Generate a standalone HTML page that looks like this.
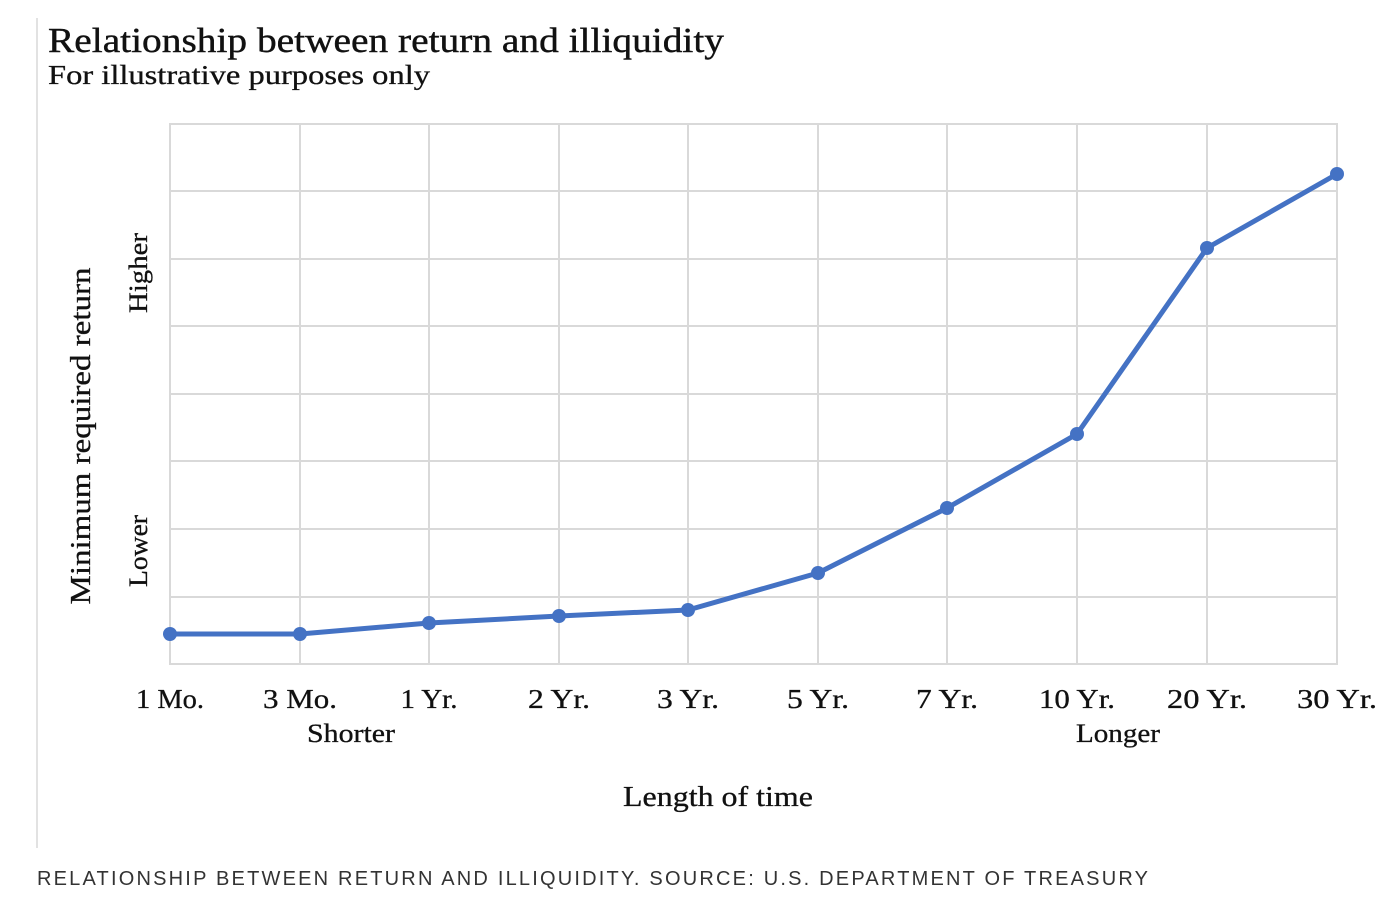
<!DOCTYPE html>
<html><head><meta charset="utf-8"><style>
html,body{margin:0;padding:0;background:#fff;}
svg{display:block}
</style></head><body>
<svg width="1394" height="918" viewBox="0 0 1394 918" xmlns="http://www.w3.org/2000/svg">
<rect width="1394" height="918" fill="#fff"/>
<line x1="37" y1="18" x2="37" y2="848" stroke="#d9d9d9" stroke-width="1.5"/>
<g font-family="Liberation Serif, serif" fill="#111">
<text x="48" y="52" font-size="35" textLength="676" lengthAdjust="spacingAndGlyphs" stroke="#111" stroke-width="0.4">Relationship between return and illiquidity</text>
<text x="48" y="84" font-size="27" textLength="382" lengthAdjust="spacingAndGlyphs" stroke="#111" stroke-width="0.3">For illustrative purposes only</text>
</g>
<g stroke="#d9d9d9" stroke-width="2" fill="none">
<rect x="170" y="124" width="1167" height="540"/>
<line x1="170" y1="191" x2="1337" y2="191"/>
<line x1="170" y1="259" x2="1337" y2="259"/>
<line x1="170" y1="326" x2="1337" y2="326"/>
<line x1="170" y1="394" x2="1337" y2="394"/>
<line x1="170" y1="461" x2="1337" y2="461"/>
<line x1="170" y1="529" x2="1337" y2="529"/>
<line x1="170" y1="597" x2="1337" y2="597"/>
<line x1="300" y1="124" x2="300" y2="664"/>
<line x1="429" y1="124" x2="429" y2="664"/>
<line x1="559" y1="124" x2="559" y2="664"/>
<line x1="688" y1="124" x2="688" y2="664"/>
<line x1="818" y1="124" x2="818" y2="664"/>
<line x1="947" y1="124" x2="947" y2="664"/>
<line x1="1077" y1="124" x2="1077" y2="664"/>
<line x1="1207" y1="124" x2="1207" y2="664"/>
</g>
<polyline points="170,634 300,634 429,623 559,616 688,610 818,573 947,508 1077,434 1207,248 1337,174" fill="none" stroke="#4472c4" stroke-width="5" stroke-linejoin="round"/>
<g fill="#4472c4">
<circle cx="170" cy="634" r="7"/><circle cx="300" cy="634" r="7"/><circle cx="429" cy="623" r="7"/><circle cx="559" cy="616" r="7"/><circle cx="688" cy="610" r="7"/><circle cx="818" cy="573" r="7"/><circle cx="947" cy="508" r="7"/><circle cx="1077" cy="434" r="7"/><circle cx="1207" cy="248" r="7"/><circle cx="1337" cy="174" r="7"/>
</g>
<g font-family="Liberation Serif, serif" fill="#111" font-size="27" text-anchor="middle" stroke="#111" stroke-width="0.3">
<text x="170" y="708" textLength="68" lengthAdjust="spacingAndGlyphs">1 Mo.</text>
<text x="300" y="708" textLength="74" lengthAdjust="spacingAndGlyphs">3 Mo.</text>
<text x="429" y="708" textLength="57" lengthAdjust="spacingAndGlyphs">1 Yr.</text>
<text x="559" y="708" textLength="62" lengthAdjust="spacingAndGlyphs">2 Yr.</text>
<text x="688" y="708" textLength="62" lengthAdjust="spacingAndGlyphs">3 Yr.</text>
<text x="818" y="708" textLength="62" lengthAdjust="spacingAndGlyphs">5 Yr.</text>
<text x="947" y="708" textLength="62" lengthAdjust="spacingAndGlyphs">7 Yr.</text>
<text x="1077" y="708" textLength="76" lengthAdjust="spacingAndGlyphs">10 Yr.</text>
<text x="1207" y="708" textLength="80" lengthAdjust="spacingAndGlyphs">20 Yr.</text>
<text x="1337" y="708" textLength="80" lengthAdjust="spacingAndGlyphs">30 Yr.</text>
<text x="351" y="742" font-size="26" textLength="88" lengthAdjust="spacingAndGlyphs">Shorter</text>
<text x="1118" y="742" font-size="26" textLength="84" lengthAdjust="spacingAndGlyphs">Longer</text>
<text x="718" y="806" font-size="28" textLength="190" lengthAdjust="spacingAndGlyphs">Length of time</text>
<text transform="translate(90,436) rotate(-90)" font-size="28" textLength="337" lengthAdjust="spacingAndGlyphs">Minimum required return</text>
<text transform="translate(147,273) rotate(-90)" font-size="26" textLength="80" lengthAdjust="spacingAndGlyphs">Higher</text>
<text transform="translate(147,551) rotate(-90)" font-size="26" textLength="72" lengthAdjust="spacingAndGlyphs">Lower</text>
</g>
<text x="37" y="885" font-family="Liberation Sans, sans-serif" font-size="20" fill="#333" textLength="1111" lengthAdjust="spacing">RELATIONSHIP BETWEEN RETURN AND ILLIQUIDITY. SOURCE: U.S. DEPARTMENT OF TREASURY</text>
</svg>
</body></html>
